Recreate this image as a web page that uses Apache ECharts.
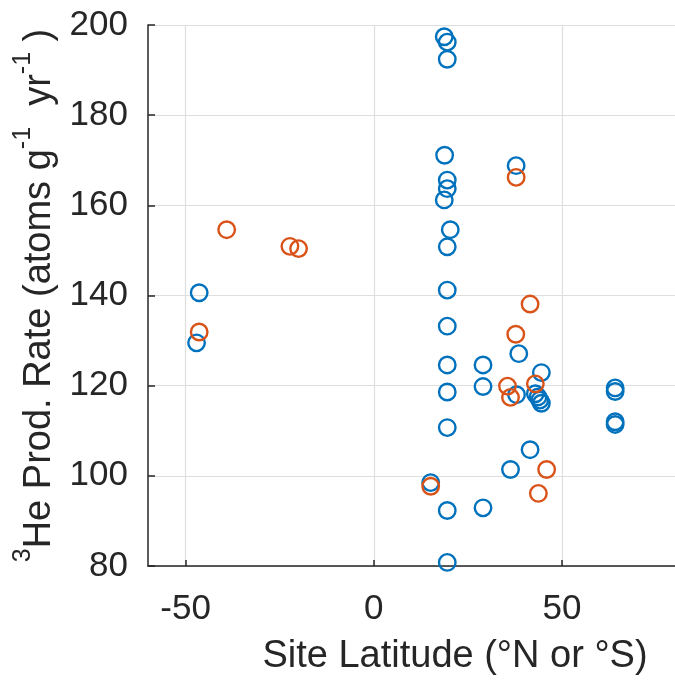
<!DOCTYPE html>
<html>
<head>
<meta charset="utf-8">
<script src="https://cdn.jsdelivr.net/npm/echarts@6/dist/echarts.min.js"></script>
<style>
html,body{margin:0;padding:0;background:#fff;}
#chart{width:675px;height:681px;}
</style>
</head>
<body>
<div id="chart"></div>
<script>
// Site latitude (°N or °S) and 3He production rate, blue group
const blueLat = [-46.4, -47.1, 18.7, 19.5, 19.5, 18.8, 37.8, 19.5, 19.5, 18.7, 20.3, 19.5, 19.5, 19.5, 38.5, 19.5, 29.0, 44.5, 29.0, 19.5, 37.9, 42.9, 43.6, 44.1, 44.5, 64.1, 64.1, 64.1, 64.1, 19.5, 41.5, 36.3, 15.1, 29.0, 19.5, 19.5];
const blueRate = [140.6, 129.5, 197.4, 196.2, 192.4, 171.1, 168.8, 165.6, 163.7, 161.2, 154.6, 150.8, 141.2, 133.2, 127.1, 124.6, 124.6, 122.9, 119.8, 118.6, 118.0, 118.2, 117.5, 116.8, 116.1, 119.5, 118.7, 112.0, 111.4, 110.7, 105.8, 101.4, 98.5, 92.9, 92.3, 80.8];
// orange group
const orangeLat = [-39.1, -22.3, -20.0, -46.4, 37.8, 41.5, 37.7, 35.5, 42.9, 36.3, 45.9, 15.1, 43.7];
const orangeRate = [154.6, 150.9, 150.4, 131.9, 166.2, 138.1, 131.4, 119.9, 120.4, 117.4, 101.4, 97.7, 96.1];
// tick labels
const xTicks = [-50, 0, 50];
const yTicks = [80, 100, 120, 140, 160, 180, 200];

const FONT = 'Liberation Sans, Arial, Helvetica, sans-serif';
const TXT = '#262626';
const toPairs = (a, b) => a.map((v, i) => [v, b[i]]);

const chart = echarts.init(document.getElementById('chart'), null, {renderer: 'canvas'});
const sym = (color) => ({
  type: 'scatter',
  symbol: 'circle',
  symbolSize: 16.5,
  itemStyle: {color: 'rgba(0,0,0,0)', borderColor: color, borderWidth: 2.4, opacity: 1},
  emphasis: {disabled: true},
  silent: true
});
chart.setOption({
  animation: false,
  backgroundColor: '#ffffff',
  grid: {left: 148, right: 0, top: 25, bottom: 114, containLabel: false},
  xAxis: {
    type: 'value', min: -60, max: 80, interval: 10,
    name: 'Site Latitude (°N or °S)',
    nameLocation: 'middle', nameGap: 72,
    nameTextStyle: {fontFamily: FONT, fontSize: 38, color: TXT, padding: [0, 0, 0, 87]},
    axisLine: {show: true, onZero: false, lineStyle: {color: TXT, width: 1.5}},
    axisTick: {show: true, inside: true, length: 6, customValues: xTicks, lineStyle: {color: TXT, width: 1.5}},
    axisLabel: {customValues: xTicks, margin: 26, fontFamily: FONT, fontSize: 35, color: TXT},
    splitLine: {show: true, customValues: xTicks, lineStyle: {color: '#dedede', width: 1.2}}
  },
  yAxis: {
    type: 'value', min: 80, max: 200, interval: 20,
    name: '{sup|3}{n|He Prod. Rate (atoms g}{sup|-1}{n|  yr}{sup|-1}{n| )}',
    nameLocation: 'middle', nameGap: 86, nameRotate: 90,
    nameTextStyle: {
      fontFamily: FONT, fontSize: 38, color: TXT,
      rich: {
        n: {fontFamily: FONT, fontSize: 38, color: TXT, lineHeight: 48, verticalAlign: 'bottom'},
        sup: {fontFamily: FONT, fontSize: 25, color: TXT, lineHeight: 48, verticalAlign: 'top'}
      }
    },
    axisLine: {show: true, onZero: false, lineStyle: {color: TXT, width: 1.5}},
    axisTick: {show: true, inside: true, length: 7, lineStyle: {color: TXT, width: 1.5}},
    axisLabel: {margin: 20, fontFamily: FONT, fontSize: 35, color: TXT},
    splitLine: {show: true, lineStyle: {color: '#dedede', width: 1.2}}
  },
  series: [
    Object.assign(sym('#0072BD'), {data: toPairs(blueLat, blueRate)}),
    Object.assign(sym('#D95319'), {data: toPairs(orangeLat, orangeRate)})
  ]
});
</script>
</body>
</html>
